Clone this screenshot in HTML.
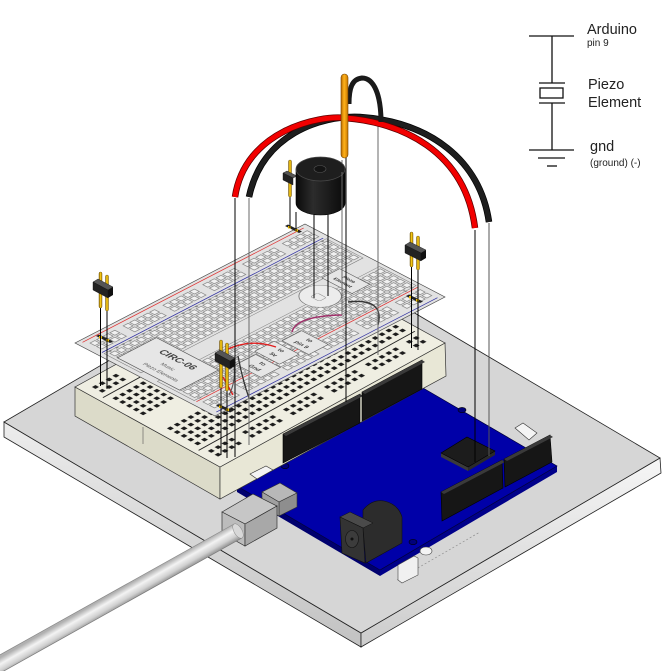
<!DOCTYPE html>
<html><head><meta charset="utf-8"><style>html,body{margin:0;padding:0;background:#fff;}svg{display:block;}</style></head>
<body>
<svg xmlns="http://www.w3.org/2000/svg" width="669" height="671" viewBox="0 0 669 671" font-family="'Liberation Sans', Arial, sans-serif">
<defs>
<pattern id="ovH" width="7.5" height="7.5" patternUnits="userSpaceOnUse"><rect x="1" y="1" width="5.5" height="5.5" fill="#f0f0f0" stroke="#6e6e6e" stroke-width=".7"/></pattern>
<pattern id="ovR" width="45" height="7.5" patternUnits="userSpaceOnUse">
<rect x="1" y="1" width="5.5" height="5.5" fill="#f0f0f0" stroke="#6e6e6e" stroke-width=".7"/>
<rect x="8.5" y="1" width="5.5" height="5.5" fill="#f0f0f0" stroke="#6e6e6e" stroke-width=".7"/>
<rect x="16" y="1" width="5.5" height="5.5" fill="#f0f0f0" stroke="#6e6e6e" stroke-width=".7"/>
<rect x="23.5" y="1" width="5.5" height="5.5" fill="#f0f0f0" stroke="#6e6e6e" stroke-width=".7"/>
<rect x="31" y="1" width="5.5" height="5.5" fill="#f0f0f0" stroke="#6e6e6e" stroke-width=".7"/>
</pattern>
<pattern id="ovM" width="7.5" height="3" patternUnits="userSpaceOnUse"><rect x="2.5" y="0.5" width="2.5" height="2" fill="#888"/></pattern>
<pattern id="bbH" width="7.8" height="7.8" patternUnits="userSpaceOnUse"><rect x="1.9" y="1.9" width="4" height="4" fill="#1c1c1c"/></pattern>
<pattern id="bbR" width="46.8" height="7.8" patternUnits="userSpaceOnUse">
<rect x="1.9" y="1.9" width="4" height="4" fill="#1c1c1c"/>
<rect x="9.7" y="1.9" width="4" height="4" fill="#1c1c1c"/>
<rect x="17.5" y="1.9" width="4" height="4" fill="#1c1c1c"/>
<rect x="25.3" y="1.9" width="4" height="4" fill="#1c1c1c"/>
<rect x="33.1" y="1.9" width="4" height="4" fill="#1c1c1c"/>
</pattern>
<linearGradient id="sideL" x1="0" y1="0" x2="0" y2="1"><stop offset="0" stop-color="#ededed"/><stop offset="1" stop-color="#c2c2c2"/></linearGradient>
<linearGradient id="sideR" x1="0" y1="0" x2="0" y2="1"><stop offset="0" stop-color="#f6f6f6"/><stop offset="1" stop-color="#cccccc"/></linearGradient>
<linearGradient id="cableG" gradientUnits="userSpaceOnUse" x1="234" y1="524" x2="242" y2="538"><stop offset="0" stop-color="#b0b0b0"/><stop offset=".35" stop-color="#f3f3f3"/><stop offset=".7" stop-color="#d0d0d0"/><stop offset="1" stop-color="#8e8e8e"/></linearGradient>
<linearGradient id="pinG" x1="0" y1="0" x2="1" y2="0"><stop offset="0" stop-color="#8a6400"/><stop offset=".45" stop-color="#ffd21a"/><stop offset="1" stop-color="#b88a00"/></linearGradient>
<linearGradient id="orG" x1="0" y1="0" x2="1" y2="0"><stop offset="0" stop-color="#b86a00"/><stop offset=".45" stop-color="#ffb21a"/><stop offset="1" stop-color="#c87800"/></linearGradient>
<linearGradient id="buzG" x1="0" y1="0" x2="1" y2="0"><stop offset="0" stop-color="#0a0a0a"/><stop offset=".35" stop-color="#2c2c2c"/><stop offset="1" stop-color="#0a0a0a"/></linearGradient>
</defs>

<!-- base plate -->
<polygon points="4,422 361,633 361,647 4,437" fill="url(#sideL)" stroke="#222" stroke-width=".8"/>
<polygon points="361,633 660,458 661,473 361,647" fill="url(#sideR)" stroke="#222" stroke-width=".8"/>
<polygon points="4,422 303,247 660,458 361,633" fill="#d6d6d6" stroke="#222" stroke-width=".8"/>
<line x1="397" y1="580" x2="480" y2="532" stroke="#888" stroke-width=".6" stroke-dasharray="2,2"/>

<!-- arduino board -->
<polygon points="237,486 380,570 380,576 237,492" fill="#00006e"/>
<polygon points="380,570 557,466 557,472 380,576" fill="#00008a"/>
<polygon points="237,486 423,388 557,466 380,570" fill="#0000a8" stroke="#00003a" stroke-width=".7"/>
<ellipse cx="285" cy="466" rx="4" ry="2.6" fill="#00007a" stroke="#000" stroke-width=".6"/>
<ellipse cx="462" cy="410" rx="4" ry="2.6" fill="#00007a" stroke="#000" stroke-width=".6"/>
<ellipse cx="413" cy="542" rx="4" ry="2.6" fill="#00007a" stroke="#000" stroke-width=".6"/>

<!-- breadboard -->
<polygon points="75,387 220,467 220,499 75,416" fill="#dcdbc9" stroke="#333" stroke-width=".7"/>
<line x1="143" y1="427" x2="143" y2="444" stroke="#555" stroke-width=".6"/>
<polygon points="220,467 445,343 446,376 220,499" fill="#e8e7d6" stroke="#333" stroke-width=".7"/>
<g transform="matrix(0.8755,-0.4825,0.8735,0.482,75,387)">
<rect x="0" y="0" width="257" height="166" fill="#efeee2" stroke="#333" stroke-width=".8"/>
<rect x="7.8" y="7.8" width="241.8" height="15.6" fill="url(#bbR)"/>
<rect x="7.8" y="140.4" width="241.8" height="15.6" fill="url(#bbR)"/>
<rect x="7.8" y="31.2" width="241.8" height="39" fill="url(#bbH)"/>
<rect x="7.8" y="93.6" width="241.8" height="39" fill="url(#bbH)"/>
<line x1="5" y1="27" x2="252" y2="27" stroke="#222" stroke-width="1.1"/>
<line x1="5" y1="136.5" x2="252" y2="136.5" stroke="#222" stroke-width="1.1"/>
</g>

<!-- arduino headers / chip -->
<polygon points="283,434 360,394 360,423 283,463" fill="#161616" stroke="#000" stroke-width=".6"/>
<polygon points="283,434 360,394 363,396 286,436" fill="#3a3a3a"/>
<polygon points="362,392 422,360 422,389 362,421" fill="#161616" stroke="#000" stroke-width=".6"/>
<polygon points="362,392 422,360 425,362 365,394" fill="#3a3a3a"/>
<polygon points="441,492 502,460 503,488 442,521" fill="#161616" stroke="#000" stroke-width=".6"/>
<polygon points="441,492 502,460 505,462 444,494" fill="#3a3a3a"/>
<polygon points="504,459 550,435 552,462 505,487" fill="#161616" stroke="#000" stroke-width=".6"/>
<polygon points="504,459 550,435 553,437 507,461" fill="#3a3a3a"/>
<polygon points="441,453 468,467 468,471 441,457" fill="#3a3a3a"/>
<polygon points="468,467 495,451 495,455 468,471" fill="#2a2a2a"/>
<polygon points="441,453 467,437 495,451 468,467" fill="#1c1c1c" stroke="#000" stroke-width=".6"/>
<!-- tabs -->
<polygon points="250,474 266,466 273,470 257,479" fill="#f4f4f4" stroke="#333" stroke-width=".6"/>
<polygon points="515,428 523,423 537,433 529,440" fill="#f4f4f4" stroke="#333" stroke-width=".6"/>
<polygon points="398,565 414,556 418,558 418,575 402,583 398,580" fill="#f0f0f0" stroke="#444" stroke-width=".6"/>
<ellipse cx="426" cy="551" rx="6" ry="4" fill="#f4f4f4" stroke="#444" stroke-width=".6"/>
<!-- power jack -->
<path d="M363,528 L363,510 Q372,499 384,501 Q398,504 402,517 L402,543 L366,563 Z" fill="#2c2c2c" stroke="#111" stroke-width=".6"/>
<polygon points="340,517 350,512 373,523 363,528" fill="#4a4a4a" stroke="#111" stroke-width=".5"/>
<polygon points="340,517 363,528 365,563 342,553" fill="#333" stroke="#111" stroke-width=".6"/>
<ellipse cx="352" cy="539" rx="6.5" ry="8.5" fill="#3c3c3c" stroke="#111" stroke-width=".6"/>
<circle cx="352" cy="539" r="1.5" fill="#111"/>

<!-- usb connector -->
<polygon points="262,492 280,483 297,493 279,502" fill="#b8b8b8" stroke="#333" stroke-width=".6"/>
<polygon points="279,502 297,493 297,507 279,516" fill="#8e8e8e" stroke="#333" stroke-width=".6"/>
<polygon points="262,492 279,502 279,516 262,506" fill="#a0a0a0" stroke="#333" stroke-width=".6"/>
<polygon points="222,512 253,494 277,506 245,524" fill="#c6c6c6" stroke="#333" stroke-width=".7"/>
<polygon points="222,512 245,524 245,546 222,533" fill="#bcbcbc" stroke="#333" stroke-width=".7"/>
<polygon points="245,524 277,506 277,528 245,546" fill="#a8a8a8" stroke="#333" stroke-width=".7"/>
<!-- cable -->
<polygon points="234.1,524 241.9,538 -11.3,679.5 -19.1,665.5" fill="url(#cableG)"/>
<line x1="234.1" y1="524" x2="-19.1" y2="665.5" stroke="#8a8a8a" stroke-width=".7"/>
<line x1="241.9" y1="538" x2="-11.3" y2="679.5" stroke="#7a7a7a" stroke-width=".7"/>
<ellipse cx="238" cy="531" rx="4" ry="8" transform="rotate(-30 238 531)" fill="#d8d8d8" stroke="#888" stroke-width=".5"/>

<!-- overlay sheet -->
<g transform="matrix(0.8846,-0.4577,0.8861,0.462,75,343)">
<rect x="0" y="0" width="260" height="158" fill="#e2e2e2" stroke="#4a4a4a" stroke-width=".8"/>
<rect x="7.5" y="7.5" width="247.5" height="15" fill="url(#ovR)"/>
<rect x="7.5" y="135" width="247.5" height="15" fill="url(#ovR)"/>
<rect x="7.5" y="30" width="247.5" height="37.5" fill="url(#ovH)"/>
<rect x="7.5" y="90" width="247.5" height="37.5" fill="url(#ovH)"/>
<rect x="7.5" y="27" width="247.5" height="3" fill="url(#ovM)"/>
<rect x="7.5" y="127.5" width="247.5" height="3" fill="url(#ovM)"/>
<rect x="5" y="28" width="251" height="41.5" fill="none" stroke="#777" stroke-width=".6"/>
<rect x="5" y="88" width="251" height="41.5" fill="none" stroke="#777" stroke-width=".6"/>
<line x1="5" y1="3.5" x2="255" y2="3.5" stroke="#e03030" stroke-width=".9"/>
<line x1="5" y1="25.5" x2="255" y2="25.5" stroke="#3030a0" stroke-width=".9"/>
<line x1="5" y1="132" x2="255" y2="132" stroke="#e03030" stroke-width=".9"/>
<line x1="5" y1="154.5" x2="255" y2="154.5" stroke="#3030a0" stroke-width=".9"/>
<rect x="8" y="40" width="44" height="70" fill="#e6e6e6" stroke="#555" stroke-width=".8"/>
<text transform="translate(37,76) rotate(90)" font-size="10" font-weight="bold" text-anchor="middle" fill="#444">CIRC-06</text>
<text transform="translate(25,78) rotate(90)" font-size="5.5" text-anchor="middle" fill="#555">Music</text>
<text transform="translate(15,80) rotate(90)" font-size="5.5" text-anchor="middle" fill="#555">Piezo Elements</text>
<rect x="68" y="114" width="22" height="28" fill="#e6e6e6" stroke="#555" stroke-width=".7"/>
<text transform="translate(82,128) rotate(90)" font-size="6" font-weight="bold" text-anchor="middle" fill="#444">to</text>
<text transform="translate(73,128) rotate(90)" font-size="6" font-weight="bold" text-anchor="middle" fill="#444">Gnd</text>
<rect x="93" y="110" width="22" height="28" fill="#e6e6e6" stroke="#555" stroke-width=".7"/>
<text transform="translate(107,124) rotate(90)" font-size="6" font-weight="bold" text-anchor="middle" fill="#444">to</text>
<text transform="translate(98,124) rotate(90)" font-size="6" font-weight="bold" text-anchor="middle" fill="#444">5v</text>
<rect x="120" y="114" width="22" height="30" fill="#e6e6e6" stroke="#555" stroke-width=".7"/>
<text transform="translate(134,129) rotate(90)" font-size="6" font-weight="bold" text-anchor="middle" fill="#444">to</text>
<text transform="translate(125,129) rotate(90)" font-size="6" font-weight="bold" text-anchor="middle" fill="#444">pin 9</text>
<circle cx="190" cy="87" r="17" fill="#ececec" stroke="#777" stroke-width=".7"/>
<rect x="184" y="82" width="8" height="10" rx="2" fill="none" stroke="#888" stroke-width=".6"/>
<rect x="211" y="68" width="20" height="34" fill="#e6e6e6" stroke="#555" stroke-width=".7"/>
<text transform="translate(223,85) rotate(90)" font-size="5" font-weight="bold" text-anchor="middle" fill="#333">Piezo</text>
<text transform="translate(216,85) rotate(90)" font-size="5" font-weight="bold" text-anchor="middle" fill="#333">Element</text>
</g>

<!-- overlay wires -->
<path d="M292,332 Q296,316 342,315" fill="none" stroke="#a0306a" stroke-width="1.5"/>
<path d="M348,302 Q385,298 378,325" fill="none" stroke="#333" stroke-width="1.4"/>
<path d="M226,350 Q250,338 276,347" fill="none" stroke="#e02020" stroke-width="1.4"/>
<line x1="223" y1="377" x2="233" y2="395" stroke="#e02020" stroke-width="1.4"/>
<path d="M238,356 Q242,378 249,398" fill="none" stroke="#333" stroke-width="1.3"/>
<path d="M233,360 Q237,380 229,395" fill="none" stroke="#555" stroke-width="1.1"/>

<!-- pads -->
<polygon points="96,336 99,334.5 113,341.5 110,343" fill="#222"/>
<polygon points="216,405.5 219,404 233,411 230,412.5" fill="#222"/>
<polygon points="406,296 409,294.5 423,301.5 420,303" fill="#222"/>
<polygon points="285,226 288,224.5 302,231.5 299,233" fill="#222"/>
<rect x="99" y="336" width="3" height="2.5" fill="#e8b800"/><rect x="106" y="339" width="3" height="2.5" fill="#e8b800"/>
<rect x="219" y="405.5" width="3" height="2.5" fill="#e8b800"/><rect x="226" y="408.5" width="3" height="2.5" fill="#e8b800"/>
<rect x="409" y="296" width="3" height="2.5" fill="#e8b800"/><rect x="416" y="299" width="3" height="2.5" fill="#e8b800"/>
<rect x="288" y="226" width="3" height="2.5" fill="#e8b800"/><rect x="295" y="229" width="3" height="2.5" fill="#e8b800"/>

<!-- guide lines -->
<g stroke-width="1" fill="none">
<line x1="235" y1="198" x2="235" y2="457" stroke="#000"/>
<line x1="249" y1="198" x2="249" y2="445" stroke="#6a6a6a"/>
<line x1="314" y1="214" x2="314" y2="298" stroke="#000"/>
<line x1="328" y1="213" x2="328" y2="296" stroke="#000"/>
<line x1="342" y1="160" x2="342" y2="315" stroke="#6a6a6a"/>
<line x1="346" y1="157" x2="346" y2="402" stroke="#000"/>
<line x1="378" y1="122" x2="378" y2="355" stroke="#6a6a6a"/>
<line x1="475" y1="230" x2="475" y2="462" stroke="#000"/>
<line x1="489" y1="223" x2="489" y2="456" stroke="#555"/>
<line x1="100.5" y1="308" x2="100.5" y2="386" stroke="#000"/>
<line x1="107" y1="311" x2="107" y2="389" stroke="#000"/>
<line x1="411.5" y1="267" x2="411.5" y2="348" stroke="#000"/>
<line x1="418" y1="270" x2="418" y2="350" stroke="#000"/>
<line x1="221" y1="388" x2="221" y2="455" stroke="#000"/>
<line x1="227" y1="391" x2="227" y2="458" stroke="#000"/>
<line x1="290" y1="197" x2="290" y2="228" stroke="#000"/>
<line x1="296" y1="212" x2="296" y2="231" stroke="#000"/>
</g>

<!-- headers above overlay -->
<rect x="99" y="272" width="3" height="36" rx="1.5" fill="url(#pinG)" stroke="#5a4000" stroke-width=".4"/>
<rect x="105.5" y="275" width="3" height="36" rx="1.5" fill="url(#pinG)" stroke="#5a4000" stroke-width=".4"/>
<polygon points="93,282 98,279 113,287 108,290" fill="#555" stroke="#111" stroke-width=".4"/>
<polygon points="93,282 108,290 108,298 93,290" fill="#222" stroke="#111" stroke-width=".4"/>
<polygon points="108,290 113,287 113,295 108,298" fill="#111"/>

<rect x="219.5" y="340" width="3" height="48" rx="1.5" fill="url(#pinG)" stroke="#5a4000" stroke-width=".4"/>
<rect x="225.5" y="343" width="3" height="48" rx="1.5" fill="url(#pinG)" stroke="#5a4000" stroke-width=".4"/>
<polygon points="215,353 220,350 235,358 230,361" fill="#555" stroke="#111" stroke-width=".4"/>
<polygon points="215,353 230,361 230,369 215,361" fill="#222" stroke="#111" stroke-width=".4"/>
<polygon points="230,361 235,358 235,366 230,369" fill="#111"/>

<rect x="410" y="232" width="3" height="35" rx="1.5" fill="url(#pinG)" stroke="#5a4000" stroke-width=".4"/>
<rect x="416.5" y="236" width="3" height="34" rx="1.5" fill="url(#pinG)" stroke="#5a4000" stroke-width=".4"/>
<polygon points="405,245 410,242 426,250 421,253" fill="#555" stroke="#111" stroke-width=".4"/>
<polygon points="405,245 421,253 421,261 405,253" fill="#222" stroke="#111" stroke-width=".4"/>
<polygon points="421,253 426,250 426,258 421,261" fill="#111"/>

<rect x="288.5" y="160" width="3" height="37" rx="1.5" fill="url(#pinG)" stroke="#5a4000" stroke-width=".4"/>
<polygon points="283,173 287,171 297,176 293,178" fill="#555" stroke="#111" stroke-width=".4"/>
<polygon points="283,173 293,178 293,185 283,180" fill="#222" stroke="#111" stroke-width=".4"/>

<!-- buzzer -->
<path d="M296,169 L296,203 A24.5,12 0 0 0 345,203 L345,169 Z" fill="url(#buzG)" stroke="#000" stroke-width=".6"/>
<ellipse cx="320.5" cy="169" rx="24.5" ry="12" fill="#1e1e1e" stroke="#4a4a4a" stroke-width=".7"/>
<ellipse cx="320" cy="169" rx="6" ry="3.5" fill="#141414" stroke="#555" stroke-width=".6"/>
<line x1="342" y1="172" x2="342" y2="214" stroke="#6a6a6a" stroke-width="1"/>

<!-- wires -->
<path d="M249,197 C262,135 320,115 360,117 C430,122 480,160 489,222" fill="none" stroke="#000" stroke-width="6.5"/>
<path d="M249,197 C262,135 320,115 360,117 C430,122 480,160 489,222" fill="none" stroke="#1e1e1e" stroke-width="5"/>
<path d="M235,197 C245,130 320,115 345,118 C400,122 465,150 475,228" fill="none" stroke="#5a0000" stroke-width="6.5"/>
<path d="M235,197 C245,130 320,115 345,118 C400,122 465,150 475,228" fill="none" stroke="#f20000" stroke-width="5"/>
<path d="M349,104 C349,88 352,79 362,78 C374,78 381,95 381,122" fill="none" stroke="#1a1a1a" stroke-width="5"/>
<rect x="341" y="74" width="7" height="84" rx="3.5" fill="url(#orG)" stroke="#704000" stroke-width=".6"/>

<!-- schematic -->
<g stroke="#111" stroke-width="1.3" fill="none">
<line x1="529" y1="36" x2="574" y2="36"/>
<line x1="552" y1="36" x2="552" y2="83"/>
<line x1="539" y1="83" x2="565" y2="83"/>
<rect x="540" y="88" width="23" height="10"/>
<line x1="539" y1="103" x2="565" y2="103"/>
<line x1="552" y1="103" x2="552" y2="150"/>
<line x1="529" y1="150" x2="574" y2="150"/>
<line x1="538" y1="158" x2="565" y2="158"/>
<line x1="547" y1="166" x2="557" y2="166"/>
</g>
<g fill="#222">
<text x="587" y="34" font-size="14.5">Arduino</text>
<text x="587" y="46" font-size="10">pin 9</text>
<text x="588" y="89" font-size="14.5">Piezo</text>
<text x="588" y="107" font-size="14.5">Element</text>
<text x="590" y="151" font-size="14.5">gnd</text>
<text x="590" y="166" font-size="10">(ground) (-)</text>
</g>
</svg>
</body></html>
